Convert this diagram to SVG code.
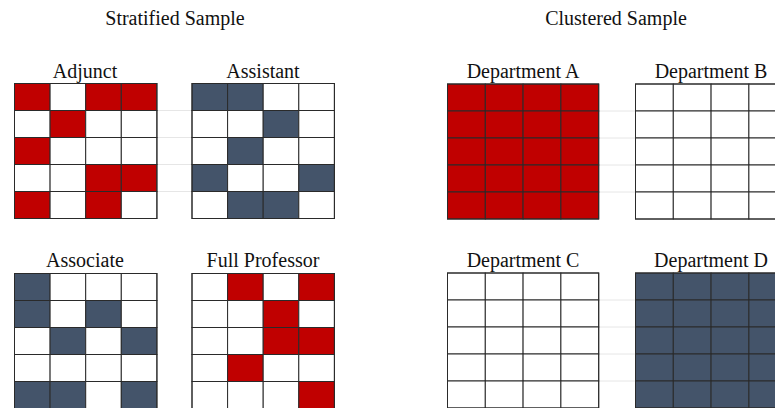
<svg xmlns="http://www.w3.org/2000/svg" width="775" height="408" viewBox="0 0 775 408">
<style>
.t{font-family:"Liberation Serif","Times New Roman",serif;font-size:20px;text-anchor:middle;fill:#111}
.c rect{stroke:#2a2a2a;stroke-width:1}
.r{fill:#c00000}
.b{fill:#44546a}
.w{fill:#ffffff}
.bd{fill:none;stroke:#7a7a7a;stroke-width:1}
.gl{stroke:#e6e6e6;stroke-width:1}
</style>
<rect width="775" height="408" fill="#fff"/>
<g id="titles">
<text class="t" x="175" y="25">Stratified Sample</text>
<text class="t" x="616" y="25">Clustered Sample</text>
</g>
<g id="gridlines">
<line class="gl" x1="157" y1="110.5" x2="192" y2="110.5"/>
<line class="gl" x1="157" y1="137.5" x2="192" y2="137.5"/>
<line class="gl" x1="157" y1="164.5" x2="192" y2="164.5"/>
<line class="gl" x1="157" y1="191.5" x2="192" y2="191.5"/>
<line class="gl" x1="599" y1="111" x2="635" y2="111"/>
<line class="gl" x1="599" y1="138" x2="635" y2="138"/>
<line class="gl" x1="599" y1="165" x2="635" y2="165"/>
<line class="gl" x1="599" y1="192" x2="635" y2="192"/>
<line class="gl" x1="599" y1="300" x2="635" y2="300"/>
<line class="gl" x1="599" y1="327" x2="635" y2="327"/>
<line class="gl" x1="599" y1="354" x2="635" y2="354"/>
<line class="gl" x1="599" y1="381" x2="635" y2="381"/>
</g>

<g id="adjunct">
<text class="t" x="85" y="77.5">Adjunct</text>
<g class="c" transform="translate(14.5,83.5)">
<rect class="r" x="0" y="0" width="35.6" height="27"/><rect class="w" x="35.6" y="0" width="35.6" height="27"/><rect class="r" x="71.2" y="0" width="35.6" height="27"/><rect class="r" x="106.8" y="0" width="35.6" height="27"/>
<rect class="w" x="0" y="27" width="35.6" height="27"/><rect class="r" x="35.6" y="27" width="35.6" height="27"/><rect class="w" x="71.2" y="27" width="35.6" height="27"/><rect class="w" x="106.8" y="27" width="35.6" height="27"/>
<rect class="r" x="0" y="54" width="35.6" height="27"/><rect class="w" x="35.6" y="54" width="35.6" height="27"/><rect class="w" x="71.2" y="54" width="35.6" height="27"/><rect class="w" x="106.8" y="54" width="35.6" height="27"/>
<rect class="w" x="0" y="81" width="35.6" height="27"/><rect class="w" x="35.6" y="81" width="35.6" height="27"/><rect class="r" x="71.2" y="81" width="35.6" height="27"/><rect class="r" x="106.8" y="81" width="35.6" height="27"/>
<rect class="r" x="0" y="108" width="35.6" height="27"/><rect class="w" x="35.6" y="108" width="35.6" height="27"/><rect class="r" x="71.2" y="108" width="35.6" height="27"/><rect class="w" x="106.8" y="108" width="35.6" height="27"/>
<rect class="bd" x="0" y="0" width="142.4" height="135"/>
</g>
</g>

<g id="assistant">
<text class="t" x="263" y="77.5">Assistant</text>
<g class="c" transform="translate(192,83.5)">
<rect class="b" x="0" y="0" width="35.6" height="27"/><rect class="b" x="35.6" y="0" width="35.6" height="27"/><rect class="w" x="71.2" y="0" width="35.6" height="27"/><rect class="w" x="106.8" y="0" width="35.6" height="27"/>
<rect class="w" x="0" y="27" width="35.6" height="27"/><rect class="w" x="35.6" y="27" width="35.6" height="27"/><rect class="b" x="71.2" y="27" width="35.6" height="27"/><rect class="w" x="106.8" y="27" width="35.6" height="27"/>
<rect class="w" x="0" y="54" width="35.6" height="27"/><rect class="b" x="35.6" y="54" width="35.6" height="27"/><rect class="w" x="71.2" y="54" width="35.6" height="27"/><rect class="w" x="106.8" y="54" width="35.6" height="27"/>
<rect class="b" x="0" y="81" width="35.6" height="27"/><rect class="w" x="35.6" y="81" width="35.6" height="27"/><rect class="w" x="71.2" y="81" width="35.6" height="27"/><rect class="b" x="106.8" y="81" width="35.6" height="27"/>
<rect class="w" x="0" y="108" width="35.6" height="27"/><rect class="b" x="35.6" y="108" width="35.6" height="27"/><rect class="b" x="71.2" y="108" width="35.6" height="27"/><rect class="w" x="106.8" y="108" width="35.6" height="27"/>
<rect class="bd" x="0" y="0" width="142.4" height="135"/>
</g>
</g>

<g id="associate">
<text class="t" x="85" y="267">Associate</text>
<g class="c" transform="translate(14.5,273.5)">
<rect class="b" x="0" y="0" width="35.6" height="27"/><rect class="w" x="35.6" y="0" width="35.6" height="27"/><rect class="w" x="71.2" y="0" width="35.6" height="27"/><rect class="w" x="106.8" y="0" width="35.6" height="27"/>
<rect class="b" x="0" y="27" width="35.6" height="27"/><rect class="w" x="35.6" y="27" width="35.6" height="27"/><rect class="b" x="71.2" y="27" width="35.6" height="27"/><rect class="w" x="106.8" y="27" width="35.6" height="27"/>
<rect class="w" x="0" y="54" width="35.6" height="27"/><rect class="b" x="35.6" y="54" width="35.6" height="27"/><rect class="w" x="71.2" y="54" width="35.6" height="27"/><rect class="b" x="106.8" y="54" width="35.6" height="27"/>
<rect class="w" x="0" y="81" width="35.6" height="27"/><rect class="w" x="35.6" y="81" width="35.6" height="27"/><rect class="w" x="71.2" y="81" width="35.6" height="27"/><rect class="w" x="106.8" y="81" width="35.6" height="27"/>
<rect class="b" x="0" y="108" width="35.6" height="27"/><rect class="b" x="35.6" y="108" width="35.6" height="27"/><rect class="w" x="71.2" y="108" width="35.6" height="27"/><rect class="b" x="106.8" y="108" width="35.6" height="27"/>
<rect class="bd" x="0" y="0" width="142.4" height="135"/>
</g>
</g>

<g id="full-professor">
<text class="t" x="263" y="267">Full Professor</text>
<g class="c" transform="translate(192,273.5)">
<rect class="w" x="0" y="0" width="35.6" height="27"/><rect class="r" x="35.6" y="0" width="35.6" height="27"/><rect class="w" x="71.2" y="0" width="35.6" height="27"/><rect class="r" x="106.8" y="0" width="35.6" height="27"/>
<rect class="w" x="0" y="27" width="35.6" height="27"/><rect class="w" x="35.6" y="27" width="35.6" height="27"/><rect class="r" x="71.2" y="27" width="35.6" height="27"/><rect class="w" x="106.8" y="27" width="35.6" height="27"/>
<rect class="w" x="0" y="54" width="35.6" height="27"/><rect class="w" x="35.6" y="54" width="35.6" height="27"/><rect class="r" x="71.2" y="54" width="35.6" height="27"/><rect class="r" x="106.8" y="54" width="35.6" height="27"/>
<rect class="w" x="0" y="81" width="35.6" height="27"/><rect class="r" x="35.6" y="81" width="35.6" height="27"/><rect class="w" x="71.2" y="81" width="35.6" height="27"/><rect class="w" x="106.8" y="81" width="35.6" height="27"/>
<rect class="w" x="0" y="108" width="35.6" height="27"/><rect class="w" x="35.6" y="108" width="35.6" height="27"/><rect class="w" x="71.2" y="108" width="35.6" height="27"/><rect class="r" x="106.8" y="108" width="35.6" height="27"/>
<rect class="bd" x="0" y="0" width="142.4" height="135"/>
</g>
</g>

<g id="department-a">
<text class="t" x="523" y="77.5">Department A</text>
<g class="c" transform="translate(447.5,84)">
<rect class="r" x="0" y="0" width="37.8" height="27"/><rect class="r" x="37.8" y="0" width="37.8" height="27"/><rect class="r" x="75.6" y="0" width="37.8" height="27"/><rect class="r" x="113.4" y="0" width="37.8" height="27"/>
<rect class="r" x="0" y="27" width="37.8" height="27"/><rect class="r" x="37.8" y="27" width="37.8" height="27"/><rect class="r" x="75.6" y="27" width="37.8" height="27"/><rect class="r" x="113.4" y="27" width="37.8" height="27"/>
<rect class="r" x="0" y="54" width="37.8" height="27"/><rect class="r" x="37.8" y="54" width="37.8" height="27"/><rect class="r" x="75.6" y="54" width="37.8" height="27"/><rect class="r" x="113.4" y="54" width="37.8" height="27"/>
<rect class="r" x="0" y="81" width="37.8" height="27"/><rect class="r" x="37.8" y="81" width="37.8" height="27"/><rect class="r" x="75.6" y="81" width="37.8" height="27"/><rect class="r" x="113.4" y="81" width="37.8" height="27"/>
<rect class="r" x="0" y="108" width="37.8" height="27"/><rect class="r" x="37.8" y="108" width="37.8" height="27"/><rect class="r" x="75.6" y="108" width="37.8" height="27"/><rect class="r" x="113.4" y="108" width="37.8" height="27"/>
<rect class="bd" x="0" y="0" width="151.2" height="135"/>
</g>
</g>

<g id="department-b">
<text class="t" x="711" y="77.5">Department B</text>
<g class="c" transform="translate(635.5,84)">
<rect class="w" x="0" y="0" width="37.8" height="27"/><rect class="w" x="37.8" y="0" width="37.8" height="27"/><rect class="w" x="75.6" y="0" width="37.8" height="27"/><rect class="w" x="113.4" y="0" width="37.8" height="27"/>
<rect class="w" x="0" y="27" width="37.8" height="27"/><rect class="w" x="37.8" y="27" width="37.8" height="27"/><rect class="w" x="75.6" y="27" width="37.8" height="27"/><rect class="w" x="113.4" y="27" width="37.8" height="27"/>
<rect class="w" x="0" y="54" width="37.8" height="27"/><rect class="w" x="37.8" y="54" width="37.8" height="27"/><rect class="w" x="75.6" y="54" width="37.8" height="27"/><rect class="w" x="113.4" y="54" width="37.8" height="27"/>
<rect class="w" x="0" y="81" width="37.8" height="27"/><rect class="w" x="37.8" y="81" width="37.8" height="27"/><rect class="w" x="75.6" y="81" width="37.8" height="27"/><rect class="w" x="113.4" y="81" width="37.8" height="27"/>
<rect class="w" x="0" y="108" width="37.8" height="27"/><rect class="w" x="37.8" y="108" width="37.8" height="27"/><rect class="w" x="75.6" y="108" width="37.8" height="27"/><rect class="w" x="113.4" y="108" width="37.8" height="27"/>
<rect class="bd" x="0" y="0" width="151.2" height="135"/>
</g>
</g>

<g id="department-c">
<text class="t" x="523" y="267">Department C</text>
<g class="c" transform="translate(447.5,273)">
<rect class="w" x="0" y="0" width="37.8" height="27"/><rect class="w" x="37.8" y="0" width="37.8" height="27"/><rect class="w" x="75.6" y="0" width="37.8" height="27"/><rect class="w" x="113.4" y="0" width="37.8" height="27"/>
<rect class="w" x="0" y="27" width="37.8" height="27"/><rect class="w" x="37.8" y="27" width="37.8" height="27"/><rect class="w" x="75.6" y="27" width="37.8" height="27"/><rect class="w" x="113.4" y="27" width="37.8" height="27"/>
<rect class="w" x="0" y="54" width="37.8" height="27"/><rect class="w" x="37.8" y="54" width="37.8" height="27"/><rect class="w" x="75.6" y="54" width="37.8" height="27"/><rect class="w" x="113.4" y="54" width="37.8" height="27"/>
<rect class="w" x="0" y="81" width="37.8" height="27"/><rect class="w" x="37.8" y="81" width="37.8" height="27"/><rect class="w" x="75.6" y="81" width="37.8" height="27"/><rect class="w" x="113.4" y="81" width="37.8" height="27"/>
<rect class="w" x="0" y="108" width="37.8" height="27"/><rect class="w" x="37.8" y="108" width="37.8" height="27"/><rect class="w" x="75.6" y="108" width="37.8" height="27"/><rect class="w" x="113.4" y="108" width="37.8" height="27"/>
<rect class="bd" x="0" y="0" width="151.2" height="135"/>
</g>
</g>

<g id="department-d">
<text class="t" x="711" y="267">Department D</text>
<g class="c" transform="translate(635.5,273)">
<rect class="b" x="0" y="0" width="37.8" height="27"/><rect class="b" x="37.8" y="0" width="37.8" height="27"/><rect class="b" x="75.6" y="0" width="37.8" height="27"/><rect class="b" x="113.4" y="0" width="37.8" height="27"/>
<rect class="b" x="0" y="27" width="37.8" height="27"/><rect class="b" x="37.8" y="27" width="37.8" height="27"/><rect class="b" x="75.6" y="27" width="37.8" height="27"/><rect class="b" x="113.4" y="27" width="37.8" height="27"/>
<rect class="b" x="0" y="54" width="37.8" height="27"/><rect class="b" x="37.8" y="54" width="37.8" height="27"/><rect class="b" x="75.6" y="54" width="37.8" height="27"/><rect class="b" x="113.4" y="54" width="37.8" height="27"/>
<rect class="b" x="0" y="81" width="37.8" height="27"/><rect class="b" x="37.8" y="81" width="37.8" height="27"/><rect class="b" x="75.6" y="81" width="37.8" height="27"/><rect class="b" x="113.4" y="81" width="37.8" height="27"/>
<rect class="b" x="0" y="108" width="37.8" height="27"/><rect class="b" x="37.8" y="108" width="37.8" height="27"/><rect class="b" x="75.6" y="108" width="37.8" height="27"/><rect class="b" x="113.4" y="108" width="37.8" height="27"/>
<rect class="bd" x="0" y="0" width="151.2" height="135"/>
</g>
</g>
</svg>
